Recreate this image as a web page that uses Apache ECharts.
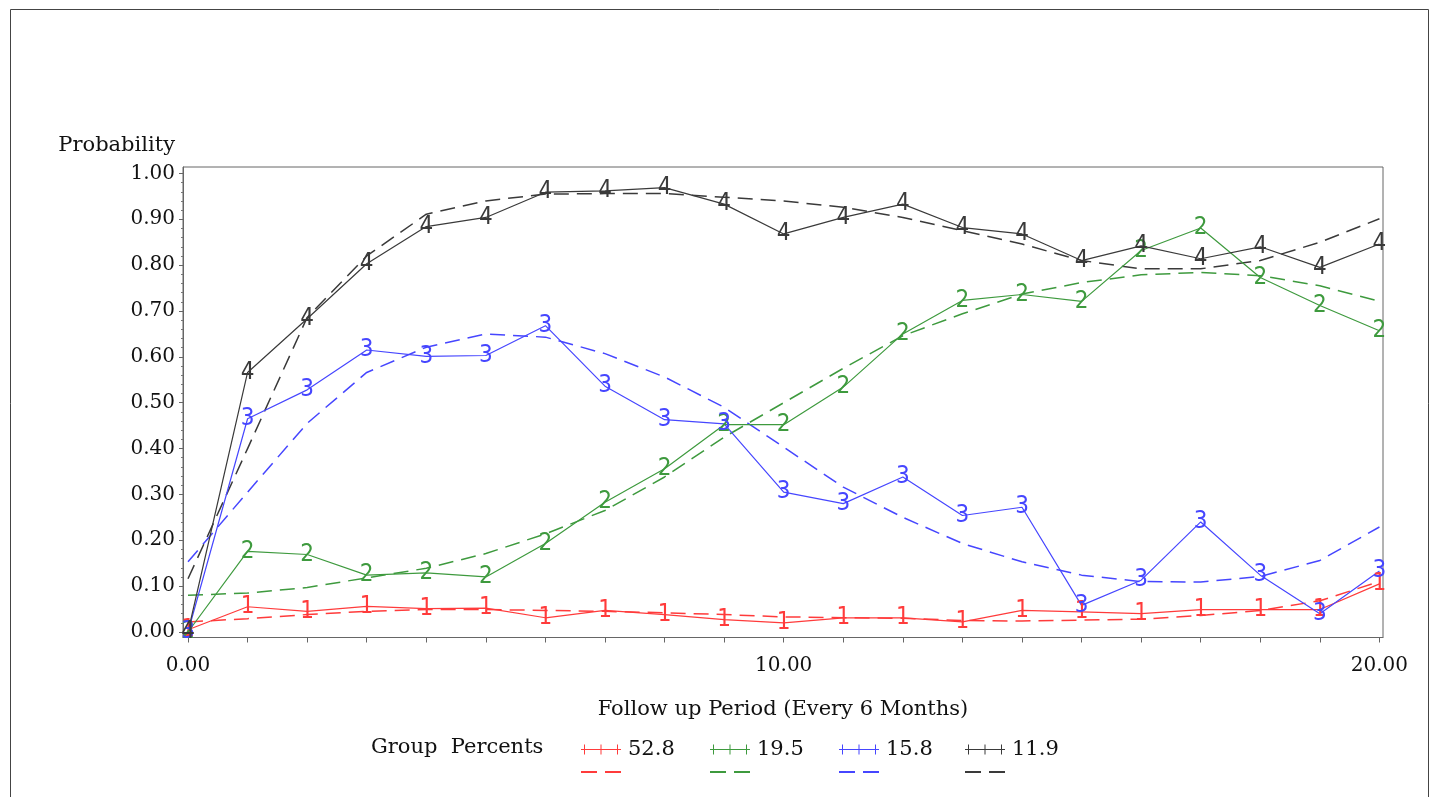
<!DOCTYPE html>
<html><head><meta charset="utf-8">
<script src="https://cdn.jsdelivr.net/npm/echarts@6/dist/echarts.min.js"></script>
<style>html,body{margin:0;padding:0;background:#fff}#c{width:1432px;height:797px}</style>
</head><body><div id="c"></div>
<script>
// ---- data ----
const periods = [0,1,2,3,4,5,6,7,8,9,10,11,12,13,14,15,16,17,18,19,20];
const groupPercents = ['52.8','19.5','15.8','11.9'];
const groupMarks = ['1','2','3','4'];
const g1Obs = [0.005,0.055,0.045,0.056,0.051,0.052,0.031,0.047,0.038,0.027,0.020,0.031,0.031,0.022,0.047,0.044,0.040,0.049,0.049,0.049,0.105];
const g1Fit = [0.022,0.029,0.038,0.045,0.049,0.049,0.047,0.045,0.042,0.038,0.033,0.031,0.030,0.025,0.024,0.026,0.028,0.036,0.047,0.068,0.110];
const g2Obs = [0.000,0.176,0.169,0.124,0.129,0.120,0.193,0.283,0.356,0.452,0.452,0.534,0.650,0.723,0.736,0.721,0.832,0.881,0.773,0.712,0.657];
const g2Fit = [0.080,0.085,0.097,0.118,0.139,0.171,0.214,0.265,0.338,0.425,0.500,0.575,0.646,0.694,0.737,0.762,0.779,0.784,0.777,0.755,0.721];
const g3Obs = [0.000,0.465,0.528,0.615,0.601,0.603,0.668,0.536,0.463,0.454,0.305,0.280,0.338,0.254,0.272,0.058,0.113,0.240,0.124,0.040,0.133];
const g3Fit = [0.153,0.305,0.455,0.566,0.621,0.650,0.643,0.607,0.556,0.490,0.403,0.316,0.250,0.193,0.153,0.124,0.110,0.109,0.121,0.156,0.229];
const g4Obs = [0.000,0.566,0.683,0.803,0.884,0.904,0.959,0.962,0.969,0.933,0.868,0.904,0.933,0.882,0.868,0.810,0.842,0.814,0.840,0.795,0.846];
const g4Fit = [0.116,0.400,0.686,0.820,0.911,0.940,0.955,0.956,0.956,0.948,0.940,0.926,0.904,0.875,0.846,0.810,0.792,0.792,0.810,0.850,0.901];
const yTickLabels = [0,0.1,0.2,0.3,0.4,0.5,0.6,0.7,0.8,0.9,1.0];
const xTickLabels = [0,10,20];

// ---- styles ----
const colors = ['#ff3b3b','#3e9a3e','#4646ff','#3a3a3a'];
const obs = [g1Obs,g2Obs,g3Obs,g4Obs];
const fit = [g1Fit,g2Fit,g3Fit,g4Fit];
const serif = '"DejaVu Serif", "Liberation Serif", serif';
const minorY = [];
for (let i = 0; i <= 50; i++) { if (i % 5 !== 0) minorY.push(i / 50); }

const series = [];
for (let g = 0; g < 4; g++) {
  series.push({
    name: 'fit' + (g + 1), type: 'line', z: 2,
    data: periods.map((t, i) => [t, fit[g][i]]),
    symbol: 'none', silent: true,
    lineStyle: { color: colors[g], width: 1.5, type: [15, 8] },
    itemStyle: { color: colors[g] }
  });
}
for (let g = 0; g < 4; g++) {
  series.push({
    name: groupPercents[g], type: 'line', z: 3,
    data: periods.map((t, i) => [t, obs[g][i]]),
    symbol: 'circle', symbolSize: 1, showSymbol: true, showAllSymbol: true, silent: true,
    lineStyle: { color: colors[g], width: 1.2 },
    itemStyle: { color: 'rgba(0,0,0,0)' },
    label: { show: true, position: 'inside', formatter: groupMarks[g], color: colors[g],
      fontFamily: '"Liberation Sans Narrow", "DejaVu Sans Condensed", "DejaVu Sans", sans-serif', fontWeight: 300, fontSize: 24 },
    labelLayout: { hideOverlap: false }
  });
}

const tickIcon = 'path://M0,4.5h40v1h-40z M3,0h1v10h-1z M19.5,0h1v10h-1z M36,0h1v10h-1z';
const dashIcon = 'path://M0,4h16v2h-16z M24,4h16v2h-16z';
const legendX = [581, 710, 839, 965];
const legends = [];
for (let g = 0; g < 4; g++) {
  legends.push({ data: [groupPercents[g]], left: legendX[g], top: 739, padding: 0, itemWidth: 40, itemHeight: 10,
    icon: tickIcon, selectedMode: false, itemGap: 0, itemStyle: { color: colors[g] },
    textStyle: { fontFamily: serif, fontSize: 21, color: '#111', padding: [0,0,0,2] } });
  legends.push({ data: ['fit' + (g + 1)], left: legendX[g], top: 767, padding: 0, itemWidth: 40, itemHeight: 10,
    icon: dashIcon, selectedMode: false, itemStyle: { color: colors[g] }, formatter: () => '', textStyle: { fontSize: 1 } });
}

const chart = echarts.init(document.getElementById('c'));
chart.setOption({
  backgroundColor: '#fff',
  animation: false,
  grid: { left: 183, right: 49, top: 167, bottom: 159.5, show: true, borderColor: '#666', borderWidth: 1, backgroundColor: 'transparent' },
  xAxis: {
    type: 'value', min: -0.084, max: 20.06,
    name: 'Follow up Period (Every 6 Months)', nameLocation: 'middle', nameGap: 62,
    nameTextStyle: { fontFamily: serif, fontSize: 21, color: '#111' },
    axisLine: { show: true, onZero: false, lineStyle: { color: '#666' } },
    axisTick: { show: true, length: 5, inside: false, customValues: periods, lineStyle: { color: '#666' } },
    axisLabel: { customValues: xTickLabels, formatter: v => v.toFixed(2), margin: 18,
      fontFamily: serif, fontSize: 20, color: '#111' },
    splitLine: { show: false }
  },
  yAxis: [{
    type: 'value', min: -0.012, max: 1.014,
    name: 'Probability', nameLocation: 'end', nameGap: 21,
    nameTextStyle: { fontFamily: serif, fontSize: 21, color: '#111', align: 'right', verticalAlign: 'middle', padding: [0, 8, 0, 0] },
    axisLine: { show: true, onZero: false, lineStyle: { color: '#666' } },
    axisTick: { show: true, length: 4, customValues: yTickLabels, lineStyle: { color: '#666' } },
    axisLabel: { customValues: yTickLabels, formatter: v => v.toFixed(2), margin: 8,
      fontFamily: serif, fontSize: 20, color: '#111' },
    splitLine: { show: false }
  }, {
    type: 'value', min: -0.012, max: 1.014, position: 'left',
    axisLine: { show: false, onZero: false },
    axisTick: { show: true, length: 2, customValues: minorY, lineStyle: { color: '#777' } },
    axisLabel: { show: false }, splitLine: { show: false }
  }],
  legend: legends,
  graphic: [
    { type: 'rect', left: 8, top: 7, shape: { width: 1418, height: 800 }, style: { fill: 'none', stroke: '#444', lineWidth: 1 }, silent: true },
    { type: 'text', left: 371, top: 737, style: { text: 'Group  Percents', font: '21px "DejaVu Serif"', fill: '#111' } }
  ],
  series: series
});
</script></body></html>
